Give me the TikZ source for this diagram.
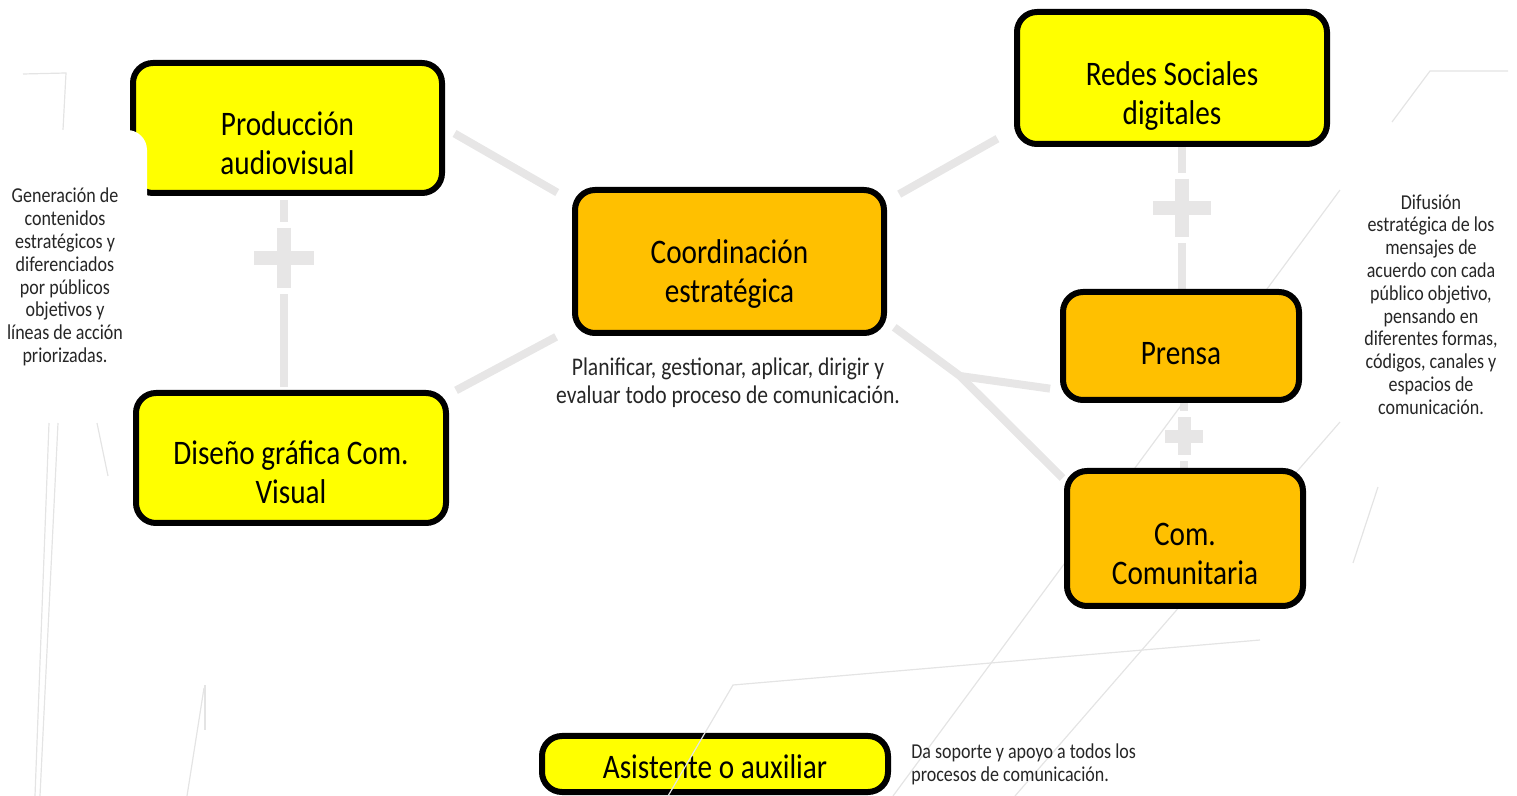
\documentclass[tikz,border=0pt]{standalone}
\usepackage{fontspec}
\setmainfont{Carlito}[FakeStretch=0.85]
\usepackage{tikz}
\usetikzlibrary{calc}
\usetikzlibrary{positioning}
\usetikzlibrary{backgrounds}
\definecolor{boxyellow}{HTML}{FFFF00}
\definecolor{boxorange}{HTML}{FFC000}
\definecolor{linkgray}{HTML}{E7E6E6}
\definecolor{faintgray}{HTML}{E4E4E4}
\definecolor{textgray}{HTML}{262626}
\newcommand{\plusmark}[3]{%
  \draw[white, line width=#3+6pt] ($(#1)+(-#2-6,0)$) -- ($(#1)+(#2+6,0)$) ($(#1)+(0,-#2-6)$) -- ($(#1)+(0,#2+6)$);
  \draw[linkgray, line width=#3] ($(#1)+(-#2,0)$) -- ($(#1)+(#2,0)$) ($(#1)+(0,-#2)$) -- ($(#1)+(0,#2)$);}
\begin{document}
\begin{tikzpicture}[x=0.5pt, y=-0.5pt,
				box/.style={draw, line width=3pt, rounded corners=10pt, align=center, inner sep=2pt, font=\fontsize{17.2}{19.4}\selectfont},
				yellowbox/.style={box, fill=boxyellow},
				orangebox/.style={box, fill=boxorange},
				lift/.style={execute at begin node={\rule{0pt}{#1}}},
				note/.style={align=center, inner sep=0pt, text=textgray, font=\fontsize{10.6}{11.4}\selectfont},
				link/.style={draw=linkgray, line width=4pt},
				faint/.style={draw=faintgray, line width=0.6pt}]
				\useasboundingbox (0,0) rectangle (1517,796);
				\node[yellowbox, lift=46.5pt, minimum width=154.5pt, minimum height=65pt](produccion) at (287.5,128) {Producción\\audiovisual};
				\node[yellowbox, lift=45.5pt, minimum width=155pt, minimum height=65pt](diseno) at (291,458) {Diseño gráfica Com.\\Visual};
				\node[orangebox, lift=43.5pt, minimum width=154.5pt, minimum height=71.5pt](coord) at (729.5,261.5) {Coordinación\\estratégica};
				\node[yellowbox, lift=49.5pt, minimum width=155pt, minimum height=66pt](redes) at (1172,78) {Redes Sociales\\digitales};
				\node[orangebox, lift=18.5pt, minimum width=118pt, minimum height=54pt](prensa) at (1181,346) {Prensa};
				\node[orangebox, lift=46pt, minimum width=118pt, minimum height=67.5pt](comunit) at (1185,538.5) {Com.\\Comunitaria};
				\node[yellowbox, lift=14.5pt, minimum width=173pt, minimum height=28pt](asist) at (715,764) {Asistente o auxiliar};
				
				\fill[white, rounded corners=10pt] (-20,130) rectangle (147,385);
				\node[note](gentext) at (65,277) {Generación de\\contenidos\\estratégicos y\\diferenciados\\por públicos\\objetivos y\\líneas de acción\\priorizadas.};
				\node[note](difutext) at (1431,304.5) {Difusión\\estratégica de los\\mensajes de\\acuerdo con cada\\público objetivo,\\pensando en\\diferentes formas,\\códigos, canales y\\espacios de\\comunicación.};
				\node[note, font=\fontsize{12.7}{14}\selectfont](plantext) at (728,383) {Planificar, gestionar, aplicar, dirigir y\\evaluar todo proceso de comunicación.};
				\node[note, align=left, right=10pt of asist](soptext) {Da soporte y apoyo a todos los\\procesos de comunicación.};
				
				\coordinate (junc) at (960,376);
				\coordinate (plus1) at (284,258);
				\coordinate (plus2) at (1182,208);
				\coordinate (plus3) at (1184,436.5);
				
				\begin{scope}[on background layer]
				\draw[link, shorten <=5.5pt, shorten >=8.5pt] (produccion.east) -- (coord.159);
				\draw[link, shorten <=4pt, shorten >=9pt] (diseno.22) -- (coord.203);
				\draw[link, shorten <=7pt, shorten >=9.5pt] (coord.21) -- (redes.198);
				\draw[link, shorten <=4.5pt, shorten >=1pt] (coord.-21) -- (junc) -- (comunit.154);
				\draw[link, shorten >=5pt] (junc) -- (prensa.200);
				\draw[link, shorten <=2pt, shorten >=1.5pt] (produccion.south -| plus1) -- (diseno.north -| plus1);
				\draw[link] (redes.south -| plus2) -- (prensa.north -| plus2);
				\draw[link] (prensa.south -| plus3) -- (comunit.north -| plus3);
				\plusmark{plus1}{30}{7pt}
				\plusmark{plus2}{29}{7pt}
				\plusmark{plus3}{19}{6.5pt}
				
				\draw[faint] (23,74) -- (66,73) -- (63,130);
				\draw[faint] (49,423) -- (35,796);
				\draw[faint] (58,423) -- (40,796);
				\draw[faint] (97,423) -- (108,476);
				\draw[faint] (205,685) -- (205,730);
				\draw[faint] (204,688) -- (187,796);
				\draw[faint] (1340,190) -- (893,796);
				\draw[faint] (1340,422) -- (1015,796);
				\draw[faint] (1378,487) -- (1353,563);
				\draw[faint] (1508,71) -- (1430,71) -- (1392,122);
				\end{scope}
				
				\draw[faint] (1260,640) -- (733,685) -- (668,796);
			\end{tikzpicture}
\end{document}
